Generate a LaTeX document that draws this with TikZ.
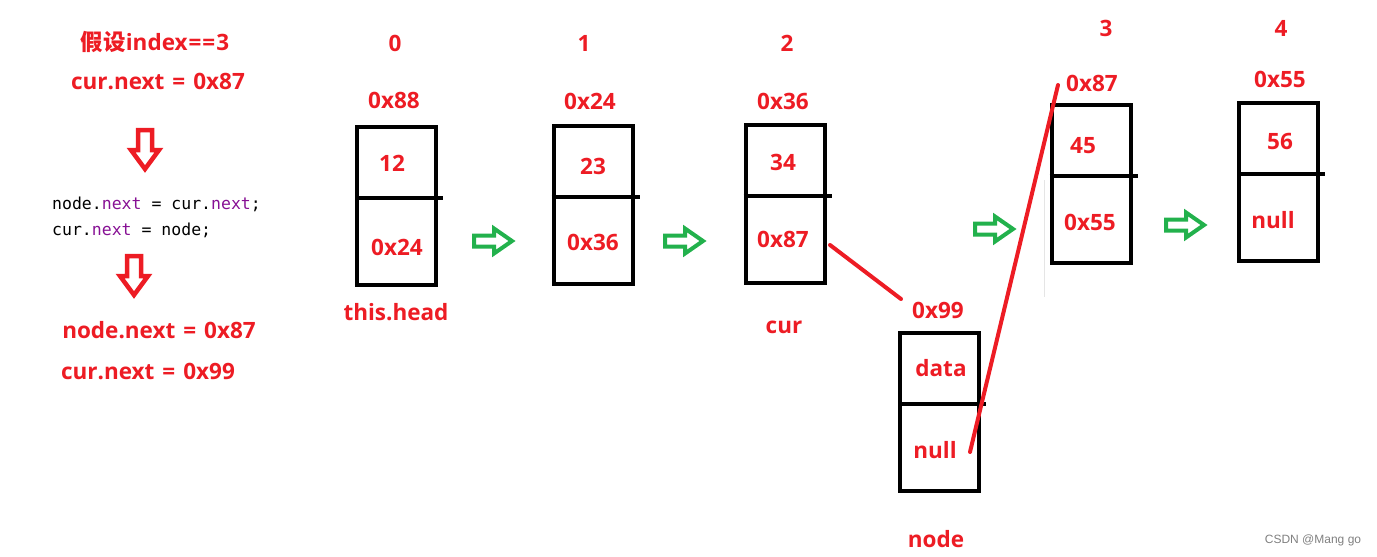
\documentclass[tikz,border=0pt]{standalone}
\usepackage{fontspec}
\setmainfont{Open Sans}
\newfontfamily\cjk{Noto Sans CJK SC}
\newfontfamily\codefont{DejaVu Sans Mono}
\newfontfamily\wmfont{Liberation Sans}
\definecolor{pred}{RGB}{237,28,36}
\definecolor{pgreen}{RGB}{34,177,76}
\definecolor{kw}{RGB}{135,16,148}
\tikzset{
	lbl/.style={text=pred, font=\bfseries\fontsize{22.5}{27}\selectfont, inner sep=0pt},
	code/.style={font=\codefont\fontsize{16.5}{19}\selectfont, inner sep=0pt, anchor=base west},
	cell/.style={draw, line width=4pt, minimum width=79pt, minimum height=158pt, inner sep=0pt},
	ptr/.style={draw=pred, line width=4pt, line cap=round},
	garrow/.style={draw=pgreen, line width=4pt},
	rarrow/.style={draw=pred, line width=4.5pt},
}
\newcommand{\gap}{\hspace{8pt}}
\begin{document}
\begin{tikzpicture}[x=1pt, y=-1pt]
	\useasboundingbox (0,0) rectangle (1377,557);
	% left side
	\node[lbl] (assume) at (155,42) {{\cjk\bfseries 假设}index\hspace{1pt}=\hspace{1pt}=\hspace{1pt}3};
	\node[lbl] (cond) at (158,81) {cur.next\gap=\gap0x87};
	\node[code] (code1) at (52,209) {node.\textcolor{kw}{next} = cur.\textcolor{kw}{next};};
	\node[code] (code2) at (52,235) {cur.\textcolor{kw}{next} = node;};
	\node[lbl] (res1) at (159,330) {node.next\gap=\gap0x87};
	\node[lbl] (res2) at (148,371) {cur.next\gap=\gap0x99};
	\foreach \x\y in {145/150,134/276}{
		\draw[rarrow] (\x,\y) ++(-7,-20) -- ++(14,0) -- ++(0,20) -- ++(7,0) -- ++(-14,19) -- ++(-14,-19) -- ++(7,0) -- cycle;
	}
	% boxes
	\foreach \i\x\y in {0/396.5/206,1/593/204.5,2/785/204,3/1091/184,4/1278.5/182,n/939.5/411.5}{
		\node[cell] (b\i) at (\x,\y) {};
		\draw[line width=4pt] ([yshift=-73pt]b\i.north west) -- ([yshift=-73pt,xshift=5pt]b\i.north east);
	}
	\foreach \i\x\y in {0/395/43,1/584/43,2/787/43,3/1106/28,4/1281/28}{
		\node[lbl] (idx\i) at (\x,\y) {\i};
	}
	\foreach \i\x\y\t in {0/394/100/0x88,1/590/101/0x24,2/783/101/0x36,3/1092/83/0x87,4/1280/79/0x55,n/938/310/0x99}{
		\node[lbl] (addr\i) at (\x,\y) {\t};
	}
	\foreach \i\x\y\t in {0/392/163/12,1/593/166/23,2/783/162/34,3/1083/146/45,4/1280/141/56,n/941/368/data}{
		\node[lbl] (val\i) at (\x,\y) {\t};
	}
	\foreach \i\x\y\t in {0/397/247/0x24,1/593/242/0x36,2/783/239/0x87,3/1090/222/0x55,4/1273/220/null,n/935/450/null}{
		\node[lbl] (nxt\i) at (\x,\y) {\t};
	}
	\node[lbl] (head) at (396,312) {this.head};
	\node[lbl] (cur) at (784,327) {cur};
	\node[lbl] (node) at (936,539) {node};
	% arrows
	\foreach \x\y in {493/241,684/241,994/229,1185/225}{
		\draw[garrow] (\x,\y) ++(-19,-5.5) -- ++(20,0) -- ++(0,-7) -- ++(18,12.5) -- ++(-18,12.5) -- ++(0,-7) -- ++(-20,0) -- cycle;
	}
	\draw[gray!20, line width=1pt] (1044,180) -- (1044,297);
	% links
	\coordinate (from2) at (830,245);
	\coordinate (to99) at (901,299);
	\coordinate (fromn) at (970,452);
	\coordinate (to87) at (1058,85);
	\draw[ptr] (from2) -- (to99);
	\draw[ptr] (fromn) -- (to87);
	\node[text=gray, font=\wmfont\fontsize{12}{14}\selectfont] (mark) at (1313,540) {CSDN @Mang go};
\end{tikzpicture}
\end{document}
